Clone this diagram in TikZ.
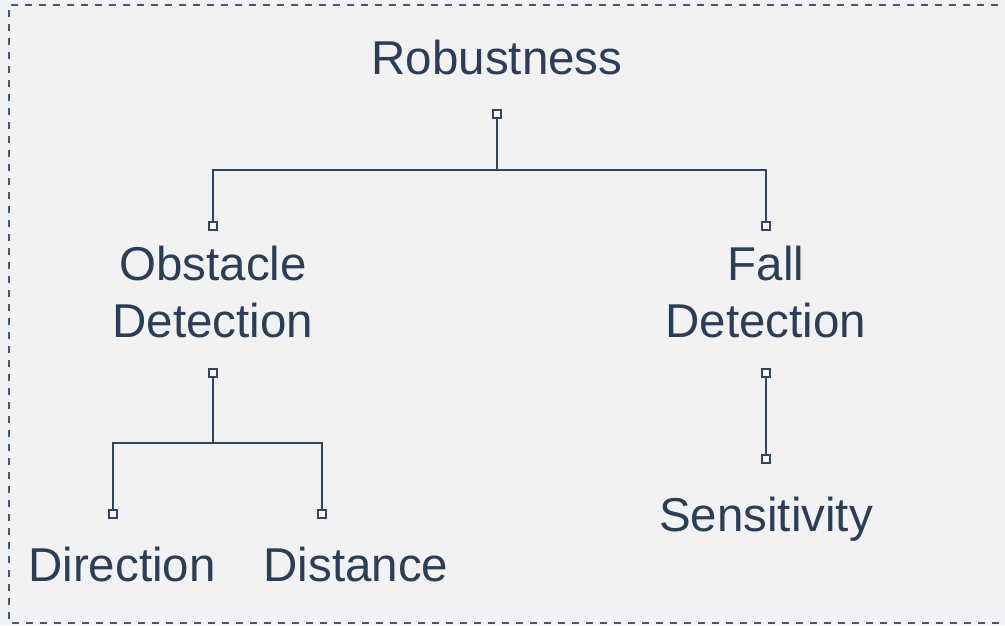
\documentclass[tikz,border=0pt]{standalone}
\usepackage{fontspec}
\setmainfont{Liberation Sans}
\definecolor{ink}{HTML}{2C3E57}
\definecolor{wire}{HTML}{2E4563}
\definecolor{frame}{HTML}{3A5A80}
\definecolor{paper}{HTML}{F2F2F2}
\tikzset{
  label/.style={text=ink, font=\fontsize{47.5}{57}\selectfont, align=center, inner sep=0pt},
  pin/.style={draw=wire, fill=white, line width=1.8pt, rectangle, minimum size=7.5pt, inner sep=0pt},
  link/.style={draw=wire, line width=2.3pt},
}
\begin{document}
\begin{tikzpicture}[x=1pt,y=-1pt]
  % canvas and dashed frame
  \fill[paper] (0,0) rectangle (1005,625);
  \useasboundingbox (0,0) rectangle (1005,625);
  \draw[frame, line width=1.8pt, dash pattern=on 7pt off 7pt] (1012,5) -- (9,5) -- (9,623) -- (1012,623);

  % labels
  \node[label, anchor=base] (rob) at (497,74) {Robustness};
  \node[label, anchor=base] (obs1) at (213,280) {Obstacle};
  \node[label, anchor=base] (obs2) at (213,337) {Detection};
  \node[label, anchor=base] (fall1) at (766,280) {Fall};
  \node[label, anchor=base] (fall2) at (766,337) {Detection};
  \node[label, anchor=base] (dir) at (122,581) {Direction};
  \node[label, anchor=base] (dis) at (356,581) {Distance};
  \node[label, anchor=base] (sen) at (766,531) {Sensitivity};

  % joints
  \coordinate (j1) at (497,170);
  \coordinate (j2) at (213,443);

  % connector end markers
  \node[pin] (p0) at (497,114) {};
  \node[pin] (p1) at (213,226) {};
  \node[pin] (p2) at (766,226) {};
  \node[pin] (p3) at (213,373) {};
  \node[pin] (p4) at (113,514) {};
  \node[pin] (p5) at (322,514) {};
  \node[pin] (p6) at (766,373) {};
  \node[pin] (p7) at (766,459) {};

  % connectors
  \draw[link] (p0.south) -- (j1);
  \draw[link] (p1.north) |- (j1) -| (p2.north);
  \draw[link] (p3.south) -- (j2);
  \draw[link] (p4.north) |- (j2) -| (p5.north);
  \draw[link] (p6.south) -- (p7.north);
\end{tikzpicture}
\end{document}
